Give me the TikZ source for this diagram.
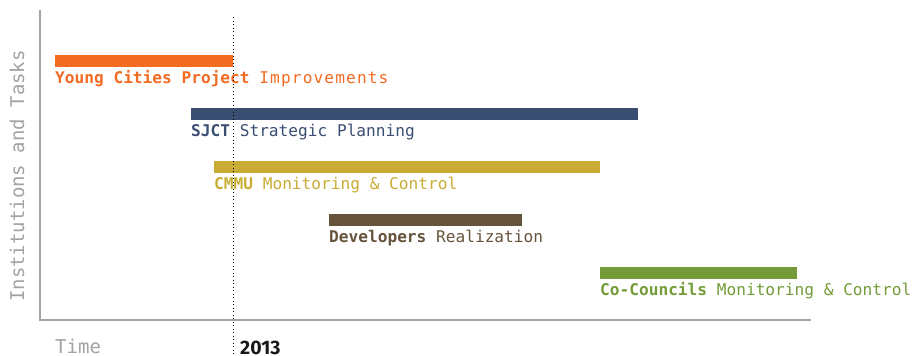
\documentclass[tikz,border=0pt]{standalone}
\usepackage{fontspec}
\setmonofont{DejaVu Sans Mono}
\newfontfamily\yearfont{Fira Sans}
\usetikzlibrary{positioning, calc}

\definecolor{ycporange}{HTML}{F26B22}
\definecolor{sjctblue}{HTML}{3A4E72}
\definecolor{cmmugold}{HTML}{C8AC33}
\definecolor{devbrown}{HTML}{65533B}
\definecolor{cocgreen}{HTML}{739B38}
\definecolor{axisgray}{HTML}{A3A3A3}

\begin{document}
\begin{tikzpicture}[
    x=1pt, y=-1pt,
    %% task bar: one institution's share of the timeline
    taskbar/.style={
        fill=#1, draw=none, inner sep=0pt,
        minimum height=12pt, anchor=north west
    },
    %% task label under each bar, first word bold
    tasklabel/.style={
        text=#1, inner sep=0pt, anchor=base west,
        font=\ttfamily\fontsize{16.15}{18}\selectfont
    },
    %% axis lines and axis titles
    axisline/.style={draw=axisgray, line width=2pt},
    axistitle/.style={
        text=axisgray, inner sep=0pt,
        font=\ttfamily\fontsize{19}{22}\selectfont
    },
    %% marker for the current year
    yearline/.style={draw=black, line width=0.9pt, dash pattern=on 0.9pt off 2.6pt}
]
\useasboundingbox (0,0) rectangle (914,356);

%%-------------------------------------------------------------- axes
\coordinate (ytop)   at (40,10);
\coordinate (origin) at (40,320);
\coordinate (xend)   at (811,320);
\draw[axisline] (ytop) -- (origin) -- (xend);

\node[axistitle, rotate=90, anchor=base] (ytitle) at (24,176) {Institutions and Tasks};
\node[axistitle, anchor=base west]       (xtitle) at (55,353) {Time};

%%-------------------------------------------------------------- bars
\node[taskbar=ycporange, minimum width=178pt] (ycp)  at (55,55)  {};
\node[taskbar=sjctblue,  minimum width=447pt] (sjct) at (191,108) {};
\node[taskbar=cmmugold,  minimum width=386pt] (cmmu) at (214,161) {};
\node[taskbar=devbrown,  minimum width=193pt] (dev)  at (329,214) {};
\node[taskbar=cocgreen,  minimum width=197pt] (coc)  at (600,267) {};

%%-------------------------------------------------------------- labels
\node[tasklabel=ycporange] (ycplabel)  at ($(ycp.south west)+(0,16.5)$)
    {\textbf{Young Cities Project} {\addfontfeature{LetterSpace=7}Improvements}};
\node[tasklabel=sjctblue]  (sjctlabel) at ($(sjct.south west)+(0,16.5)$)
    {\textbf{SJCT} Strategic Planning};
\node[tasklabel=cmmugold]  (cmmulabel) at ($(cmmu.south west)+(0,16.5)$)
    {\textbf{CMMU} Monitoring \& Control};
\node[tasklabel=devbrown]  (devlabel)  at ($(dev.south west)+(0,16.5)$)
    {\textbf{Developers} Realization};
\node[tasklabel=cocgreen]  (coclabel)  at ($(coc.south west)+(0,16.5)$)
    {\textbf{Co-Councils} Monitoring \& Control};

%%-------------------------------------------------------------- year marker
\coordinate (yeartop) at (233,17);
\coordinate (yearbot) at (233,356);
\draw[yearline] (yeartop) -- (yearbot);

\node[inner sep=0pt, anchor=base west, text depth=0pt, text=black!90,
      font=\yearfont\bfseries\fontsize{19.5}{22}\selectfont]
    (year) at (240,354) {2013};

\end{tikzpicture}
\end{document}
